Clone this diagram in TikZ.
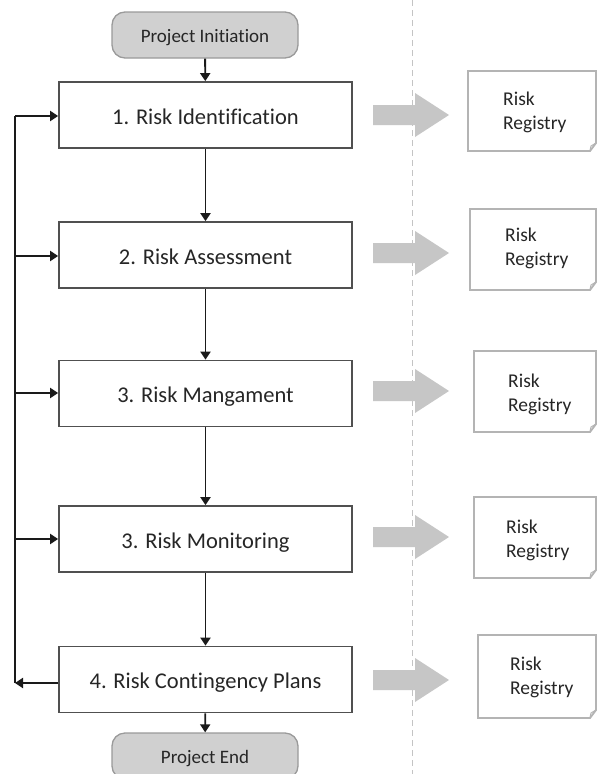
\documentclass[tikz,border=0pt]{standalone}
\usepackage{fontspec}
\setmainfont[Ligatures=NoCommon]{Carlito}
\usetikzlibrary{arrows.meta}
\definecolor{txt}{HTML}{262626}
\definecolor{termfill}{HTML}{D0D0D0}
\definecolor{termdraw}{HTML}{9A9A9A}
\definecolor{arrgray}{HTML}{C6C6C6}
\definecolor{regdraw}{HTML}{B4B4B4}
\definecolor{dashgray}{HTML}{C4C4C4}
\definecolor{boxdraw}{HTML}{505050}
\definecolor{linec}{HTML}{1A1A1A}
\tikzset{
  stepbox/.style={draw=boxdraw, line width=1.8pt, fill=white, minimum width=293pt, minimum height=66pt, inner sep=0pt, text height=18pt, text depth=0pt, text=txt, font=\fontsize{22.5}{24}\selectfont},
  termbox/.style={draw=termdraw, line width=1.3pt, fill=termfill, rounded corners=13pt, minimum width=186pt, minimum height=46pt, inner sep=0pt, text height=14pt, text depth=0pt, text=txt, font=\fontsize{19}{21}\selectfont},
  flow/.style={draw=linec, line width=1.9pt, -{Triangle[length=8pt,width=10pt]}},
  fb/.style={draw=linec, line width=1.9pt},
  blockarrow/.style={fill=arrgray, draw=none},
  regbox/.style={draw=regdraw, line width=1.8pt, fill=white},
  regtext/.style={anchor=west, align=left, text=txt, font=\fontsize{19.5}{24}\selectfont, inner sep=0pt},
}
\begin{document}
\begin{tikzpicture}[x=1pt, y=-1pt]
\useasboundingbox (0,0) rectangle (597,774);
\fill[white] (0,0) rectangle (597,774);
% dashed separator
\draw[dashgray, line width=1pt, dash pattern=on 6pt off 4pt] (412,0) -- (412,774);
% terminals and steps
\node[termbox] (start) at (205,35) {Project Initiation};
\node[stepbox] (s1) at (205.5,115) {1. Risk Identification};
\node[stepbox] (s2) at (205.5,255) {2. Risk Assessment};
\node[stepbox] (s3) at (205.5,393.5) {3. Risk Mangament};
\node[stepbox] (s4) at (205.5,539) {3. Risk Monitoring};
\node[stepbox] (s5) at (205.5,679.5) {4. Risk Contingency Plans};
\node[termbox] (end) at (205,756) {Project End};
% main flow
\draw[flow] (start) -- (s1);
\draw[flow] (s1) -- (s2);
\draw[flow] (s2) -- (s3);
\draw[flow] (s3) -- (s4);
\draw[flow] (s4) -- (s5);
\draw[flow] (s5) -- (end);
% feedback loop
\coordinate (fbb) at (15,683);
\coordinate (fbt) at (15,116);
\draw[flow] (s5.west |- fbb) -- (fbb);
\draw[fb] (fbb) -- (fbt);
\draw[flow] (fbt) -- (s1.west |- fbt);
\draw[flow] (15,256) -- (s2.west |- 0,256);
\draw[flow] (15,393) -- (s3.west |- 0,393);
\draw[flow] (15,539) -- (s4.west |- 0,539);
% block arrows
\foreach \yy in {115,253,391,537,680}{
  \fill[blockarrow] (373,\yy-10) -- (415,\yy-10) -- (415,\yy-22) -- (449,\yy) -- (415,\yy+22) -- (415,\yy+10) -- (373,\yy+10) -- cycle;
}
% registry documents
\foreach \xl/\yt/\yb/\tx/\ty/\nm in {468/71/151/503/112/r1, 470/209/290/505/248/r2, 474/351/432/508/394/r3, 474/497/578/506/540/r4, 478/635/718/510/677/r5}{
  \draw[regbox] (\xl,\yt) -- (596,\yt) -- (596,\yb-8) -- (590,\yb) -- (\xl,\yb) -- cycle;
  \draw[regdraw, line width=1pt] (596,\yb-8) -- (591,\yb-5) -- (590,\yb);
  \node[regtext] (\nm) at (\tx,\ty) {Risk\\Registry};
}
\end{tikzpicture}
\end{document}
